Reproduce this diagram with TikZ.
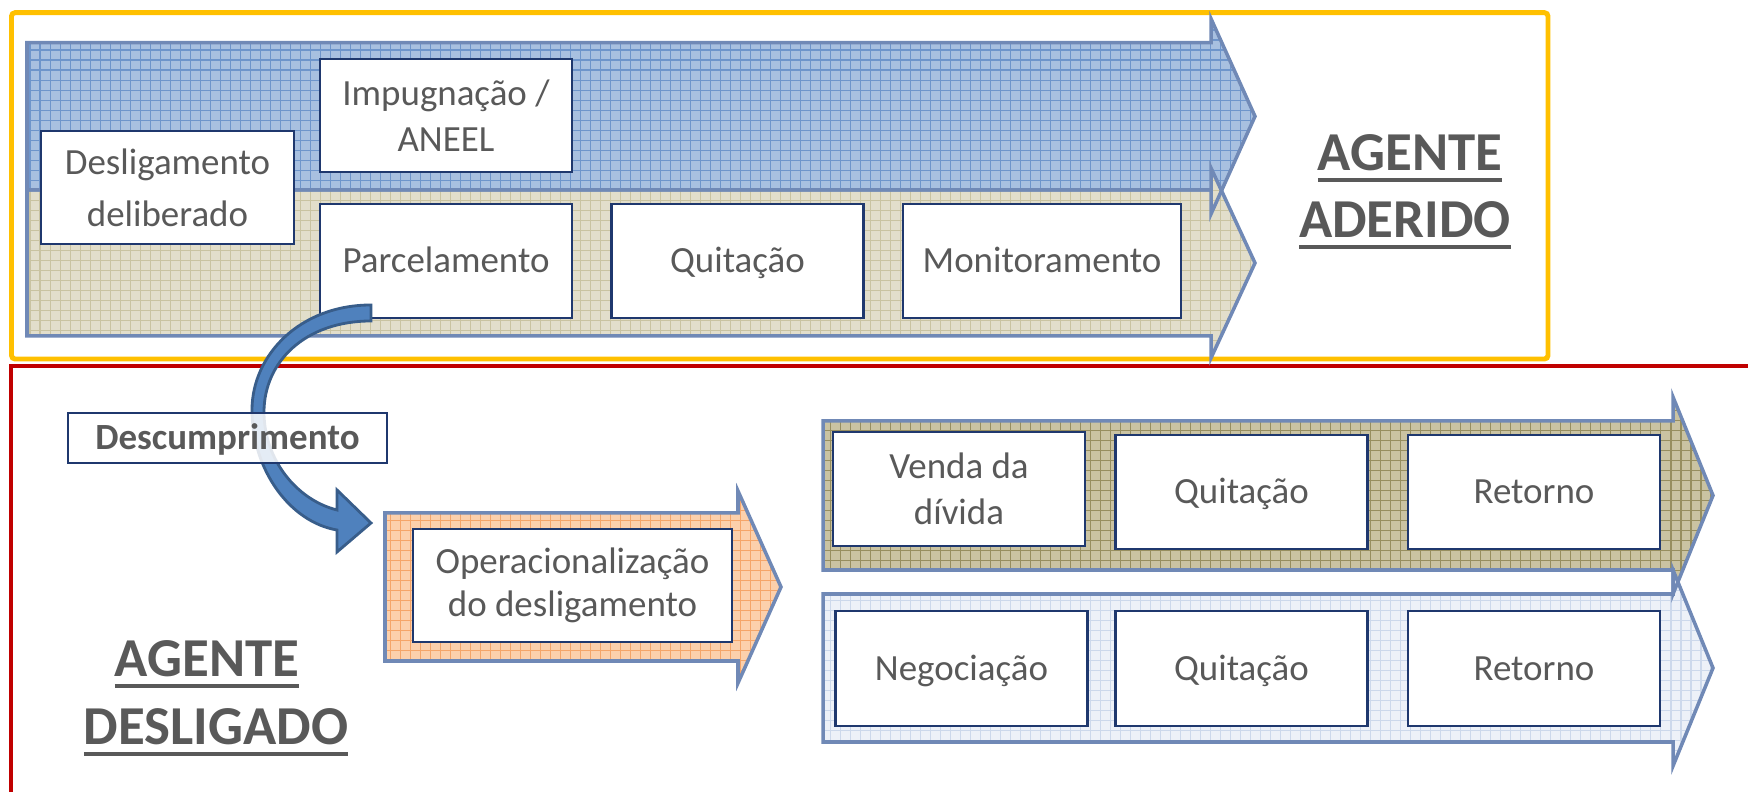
\documentclass[tikz,border=0pt]{standalone}
\usepackage{fontspec}
\setmainfont{Carlito}
\definecolor{txtgray}{HTML}{595959}
\definecolor{boxnavy}{HTML}{1F386E}
\definecolor{frameyellow}{HTML}{FFC000}
\definecolor{framered}{HTML}{C00000}
\definecolor{edgeblue}{HTML}{7089B6}
\definecolor{bluefill}{HTML}{A8C0E0}
\definecolor{bluegrid}{HTML}{6E95CB}
\definecolor{tanfill}{HTML}{E2DECB}
\definecolor{tangrid}{HTML}{C9C3A1}
\definecolor{orangefill}{HTML}{FCD0AC}
\definecolor{orangegrid}{HTML}{F5A569}
\definecolor{khakifill}{HTML}{CAC3A2}
\definecolor{khakigrid}{HTML}{978E5F}
\definecolor{lightfill}{HTML}{EDF1F8}
\definecolor{lightgrid}{HTML}{CCD8EB}
\definecolor{curvefill}{HTML}{4F81BD}
\definecolor{curveedge}{HTML}{385D8A}
% #1 x0, #2 ytop, #3 ybot, #4 xhead, #5 xtip, #6 head extension, #7 fill, #8 grid
\newcommand{\arrowbody}[8]{%
  \fill[#7] (#1,#2) -- (#4,#2) -- (#4,#2-#6) -- (#5,{(#2+#3)/2}) -- (#4,#3+#6) -- (#4,#3) -- (#1,#3) -- cycle;
  \begin{scope}
    \clip (#1,#2) -- (#4,#2) -- (#4,#2-#6) -- (#5,{(#2+#3)/2}) -- (#4,#3+#6) -- (#4,#3) -- (#1,#3) -- cycle;
    \draw[#8, line width=0.3pt, step=1mm] (#1,#2-#6) grid (#5,#3+#6);
  \end{scope}}
\newcommand{\arrowoutline}[6]{%
  \draw[edgeblue, line width=1pt, line join=miter] (#1,#2) -- (#4,#2) -- (#4,#2-#6) -- (#5,{(#2+#3)/2}) -- (#4,#3+#6) -- (#4,#3) -- (#1,#3) -- cycle;}
\newcommand{\myul}[1]{\setbox0=\hbox{#1}\rlap{\copy0}\rule[-3.1pt]{\wd0}{1.1pt}}
\tikzset{
  procbox/.style={draw=boxnavy, fill=white, line width=0.7pt, text=txtgray, align=center,
    inner sep=0pt, minimum width=2.52cm, minimum height=1.14cm, font=\fontsize{10.5}{13}\selectfont},
  oneline/.style={text height=9pt, text depth=2.2pt},
  agent/.style={text=txtgray, inner sep=0pt, anchor=base, font=\fontsize{15.6}{19}\selectfont\bfseries},
}
\begin{document}
\begin{tikzpicture}[x=0.01cm, y=-0.01cm]
\useasboundingbox (0,0) rectangle (1748,792);
% frames
\draw[frameyellow, line width=1.4pt, rounded corners=1pt] (11.5,12.7) rectangle (1548,359);
\draw[framered, line width=1.4pt, line join=miter] (11,820) -- (11,366) -- (1770,366);
% big arrows
\arrowbody{27}{42.7}{190}{1211}{1255}{24}{bluefill}{bluegrid}
\arrowbody{27}{190}{336}{1211}{1255}{22}{tanfill}{tangrid}
\arrowoutline{27}{42.7}{190}{1211}{1255}{24}
\arrowoutline{27}{190}{336}{1211}{1255}{22}
\arrowbody{385}{513}{661}{738}{781}{22}{orangefill}{orangegrid}
\arrowoutline{385}{513}{661}{738}{781}{22}
\arrowbody{823}{421}{570}{1673}{1713}{24}{khakifill}{khakigrid}
\arrowbody{823}{594}{742}{1673}{1713}{24}{lightfill}{lightgrid}
\arrowoutline{823}{421}{570}{1673}{1713}{24}
\arrowoutline{823}{594}{742}{1673}{1713}{24}
% boxes
\node[procbox, font=\fontsize{10.5}{14.8}\selectfont, minimum width=2.53cm, minimum height=1.13cm] (desl) at (167.5,187.5) {Desligamento\\deliberado};
\node[procbox, minimum height=1.13cm] (impug) at (446,115.5) {Impugnação /\\ANEEL};
\node[procbox, oneline] (parc) at (446,261) {Parcelamento};
\node[procbox, oneline] (quit1) at (737.5,261) {Quitação};
\node[procbox, oneline, minimum width=2.78cm] (monit) at (1042,261) {Monitoramento};
\node[procbox, font=\fontsize{10.5}{12.3}\selectfont, minimum width=3.19cm, minimum height=1.13cm] (oper) at (572.5,585.5) {Operacionalização\\do desligamento};
\node[procbox] (venda) at (959,489) {Venda da\\dívida};
\node[procbox, oneline] (quit2) at (1241.5,492) {Quitação};
\node[procbox, oneline] (ret1) at (1534,492) {Retorno};
\node[procbox, oneline, minimum height=1.15cm] (neg) at (961.5,668.5) {Negociação};
\node[procbox, oneline, minimum height=1.15cm] (quit3) at (1241.5,668.5) {Quitação};
\node[procbox, oneline, minimum height=1.15cm] (ret2) at (1534,668.5) {Retorno};
% curved arrow
\filldraw[fill=curvefill, draw=curveedge, line width=0.8pt, line join=miter]
  (371,305) .. controls (300,305) and (252,355) .. (252,410)
  .. controls (252,470) and (290,522) .. (337,530)
  -- (337,552) -- (371,523) -- (337,490) -- (337,510)
  .. controls (297,500) and (264,460) .. (264,412)
  .. controls (264,362) and (305,321) .. (371,321) -- cycle;
\node[procbox, oneline, font=\fontsize{10.5}{13}\selectfont\bfseries, minimum width=3.19cm, minimum height=0.5cm,
  fill opacity=0.85, text opacity=1] (desc) at (227.5,438) {Descumprimento};
% agent labels
\node[agent] (ag1) at (1410,171) {\myul{AGENTE}};
\node[agent] (ag2) at (1405,238) {\myul{ADERIDO}};
\node[agent] (ag3) at (207,677) {\myul{AGENTE}};
\node[agent] (ag4) at (216,745) {\myul{DESLIGADO}};
\end{tikzpicture}
\end{document}
